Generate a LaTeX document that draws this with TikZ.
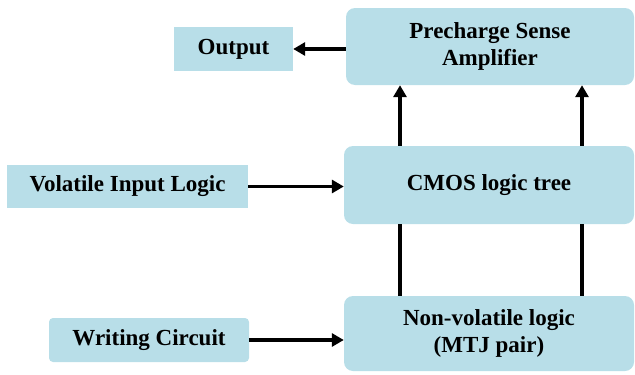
\documentclass[tikz,border=0pt]{standalone}
\usepackage{fontspec}
\setmainfont{Liberation Serif}
\usetikzlibrary{arrows.meta}
\definecolor{boxblue}{RGB}{184,222,232}
\begin{document}
\begin{tikzpicture}[x=1pt,y=-1pt,
  box/.style={fill=boxblue, draw=none, align=center, inner sep=0pt,
    font=\bfseries\fontsize{23}{27}\selectfont},
  conn/.style={line width=3.8pt, -{Triangle[length=12pt,width=13pt]}},
  wire/.style={line width=3.8pt}]
\useasboundingbox (0,0) rectangle (635,375);
\node[box, rounded corners=9pt, minimum width=288pt, minimum height=77pt] (psa) at (490,46.5) {Precharge Sense\\Amplifier};
\node[box, minimum width=119pt, minimum height=44pt] (out) at (233.5,49) {Output};
\node[box, rounded corners=9pt, minimum width=290pt, minimum height=78pt] (cmos) at (489,185) {CMOS logic tree};
\node[box, minimum width=241pt, minimum height=43pt] (vil) at (127.5,186.5) {Volatile Input Logic};
\node[box, rounded corners=9pt, minimum width=290pt, minimum height=75pt] (nv) at (489,333.5) {Non-volatile logic\\(MTJ pair)};
\node[box, rounded corners=4pt, minimum width=200pt, minimum height=44pt] (wc) at (149,340) {Writing Circuit};
\coordinate (xa) at (400,0);
\coordinate (xb) at (582,0);
\draw[conn] (psa.west |- out.east) -- (out.east);
\draw[conn] (vil.east) -- (vil.east -| cmos.west);
\draw[conn] (wc.east) -- (wc.east -| nv.west);
\draw[wire] (nv.north -| xa) -- (cmos.south -| xa);
\draw[wire] (nv.north -| xb) -- (cmos.south -| xb);
\draw[conn] (cmos.north -| xa) -- (psa.south -| xa);
\draw[conn] (cmos.north -| xb) -- (psa.south -| xb);
\end{tikzpicture}
\end{document}
